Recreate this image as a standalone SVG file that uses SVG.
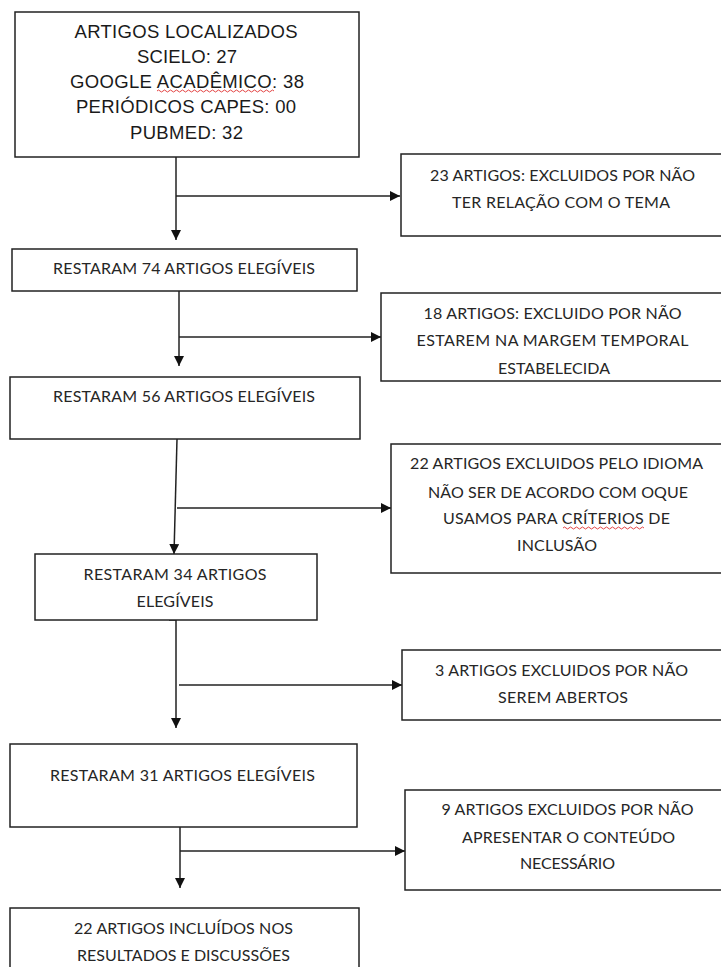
<svg xmlns="http://www.w3.org/2000/svg" width="721" height="967" viewBox="0 0 721 967">
<style>
.box{fill:#fff;stroke:#222;stroke-width:1.5}
.a{font-family:"Liberation Sans",Arial,sans-serif;font-size:18.5px;fill:#1a1a1a;text-anchor:middle}
.c{font-family:Lato,"Open Sans",sans-serif;font-size:16px;fill:#262626;text-anchor:middle}
.ln{fill:none;stroke:#222;stroke-width:1.5}
.sp{fill:none;stroke:#e03030;stroke-width:0.9}
</style>
<defs>
<marker id="ah" viewBox="0 0 10 10" refX="10" refY="5" markerWidth="10" markerHeight="10" markerUnits="userSpaceOnUse" orient="auto"><path d="M0,0 L10,5 L0,10 z" fill="#111"/></marker>
</defs>
<rect width="721" height="967" fill="#fff"/>
<g id="connectors">
<path class="ln" d="M176,157 V240" marker-end="url(#ah)"/>
<path class="ln" d="M176,196 H400" marker-end="url(#ah)"/>
<path class="ln" d="M179,291 V366" marker-end="url(#ah)"/>
<path class="ln" d="M179,337 H381" marker-end="url(#ah)"/>
<path class="ln" d="M177,439 L174,554" marker-end="url(#ah)"/>
<path class="ln" d="M177,508 H391" marker-end="url(#ah)"/>
<path class="ln" d="M169,620 H176 M176,617 V728" marker-end="url(#ah)"/>
<path class="ln" d="M179,685 H402" marker-end="url(#ah)"/>
<path class="ln" d="M180,827 V888" marker-end="url(#ah)"/>
<path class="ln" d="M180,851 H405" marker-end="url(#ah)"/>
</g>
<g id="n1">
<rect class="box" x="15" y="12" width="344" height="145"/>
<text class="a" x="186" y="38" textLength="223">ARTIGOS LOCALIZADOS</text>
<text class="a" x="187" y="63" textLength="100">SCIELO: 27</text>
<text class="a" x="187" y="88" textLength="234">GOOGLE ACADÊMICO: 38</text>
<text class="a" x="186" y="113" textLength="220">PERIÓDICOS CAPES: 00</text>
<text class="a" x="186.5" y="138.5" textLength="113">PUBMED: 32</text>
<path class="sp" d="M157,91 q1.5,-2 3,0 t3,0 t3,0 t3,0 t3,0 t3,0 t3,0 t3,0 t3,0 t3,0 t3,0 t3,0 t3,0 t3,0 t3,0 t3,0 t3,0 t3,0 t3,0 t3,0 t3,0 t3,0 t3,0 t3,0 t3,0 t3,0 t3,0 t3,0 t3,0 t3,0 t3,0 t3,0 t3,0 t3,0 t3,0 t3,0 t3,0 t3,0 t3,0"/>
</g>
<g id="n2">
<rect class="box" x="401" y="154" width="330" height="82"/>
<text class="c" x="562.5" y="181" textLength="265">23 ARTIGOS:  EXCLUIDOS POR NÃO</text>
<text class="c" x="561" y="207.5" textLength="218">TER RELAÇÃO COM O TEMA</text>
</g>
<g id="n3">
<rect class="box" x="12" y="249" width="345" height="42"/>
<text class="c" x="184" y="274" textLength="262">RESTARAM 74 ARTIGOS  ELEGÍVEIS</text>
</g>
<g id="n4">
<rect class="box" x="381" y="293" width="350" height="88"/>
<text class="c" x="552.5" y="319" textLength="258">18 ARTIGOS:  EXCLUIDO POR NÃO</text>
<text class="c" x="552.5" y="346" textLength="272">ESTAREM NA MARGEM TEMPORAL</text>
<text class="c" x="554" y="374" textLength="112">ESTABELECIDA</text>
</g>
<g id="n5">
<rect class="box" x="10" y="377" width="350" height="62"/>
<text class="c" x="184" y="402" textLength="262">RESTARAM 56 ARTIGOS ELEGÍVEIS</text>
</g>
<g id="n6">
<rect class="box" x="391" y="444" width="340" height="129"/>
<text class="c" x="556.5" y="469" textLength="293">22 ARTIGOS EXCLUIDOS PELO IDIOMA</text>
<text class="c" x="558" y="498" textLength="260">NÃO SER DE ACORDO COM OQUE</text>
<text class="c" x="556.5" y="524" textLength="227">USAMOS PARA CRÍTERIOS DE</text>
<text class="c" x="557" y="551" textLength="80">INCLUSÃO</text>
<path class="sp" d="M563,528 q1.5,-2 3,0 t3,0 t3,0 t3,0 t3,0 t3,0 t3,0 t3,0 t3,0 t3,0 t3,0 t3,0 t3,0 t3,0 t3,0 t3,0 t3,0 t3,0 t3,0 t3,0 t3,0 t3,0 t3,0 t3,0 t3,0 t3,0 t3,0"/>
</g>
<g id="n7">
<rect class="box" x="35" y="554" width="282" height="66"/>
<text class="c" x="175" y="580" textLength="183">RESTARAM 34 ARTIGOS</text>
<text class="c" x="175" y="607" textLength="77">ELEGÍVEIS</text>
</g>
<g id="n8">
<rect class="box" x="402" y="650" width="329" height="70"/>
<text class="c" x="561.5" y="676" textLength="253">3 ARTIGOS EXCLUIDOS POR NÃO</text>
<text class="c" x="563" y="703" textLength="130">SEREM ABERTOS</text>
</g>
<g id="n9">
<rect class="box" x="10" y="744" width="347" height="83"/>
<text class="c" x="182.5" y="781" textLength="265">RESTARAM 31 ARTIGOS ELEGÍVEIS</text>
</g>
<g id="n10">
<rect class="box" x="405" y="790" width="326" height="100"/>
<text class="c" x="567.5" y="815" textLength="252">9 ARTIGOS EXCLUIDOS POR NÃO</text>
<text class="c" x="568.5" y="843" textLength="213">APRESENTAR O CONTEÚDO</text>
<text class="c" x="567.5" y="869" textLength="95">NECESSÁRIO</text>
</g>
<g id="n11">
<rect class="box" x="10" y="908" width="349" height="70"/>
<text class="c" x="183.5" y="934" textLength="219">22 ARTIGOS INCLUÍDOS NOS</text>
<text class="c" x="183.5" y="961" textLength="213">RESULTADOS E DISCUSSÕES</text>
</g>
</svg>
